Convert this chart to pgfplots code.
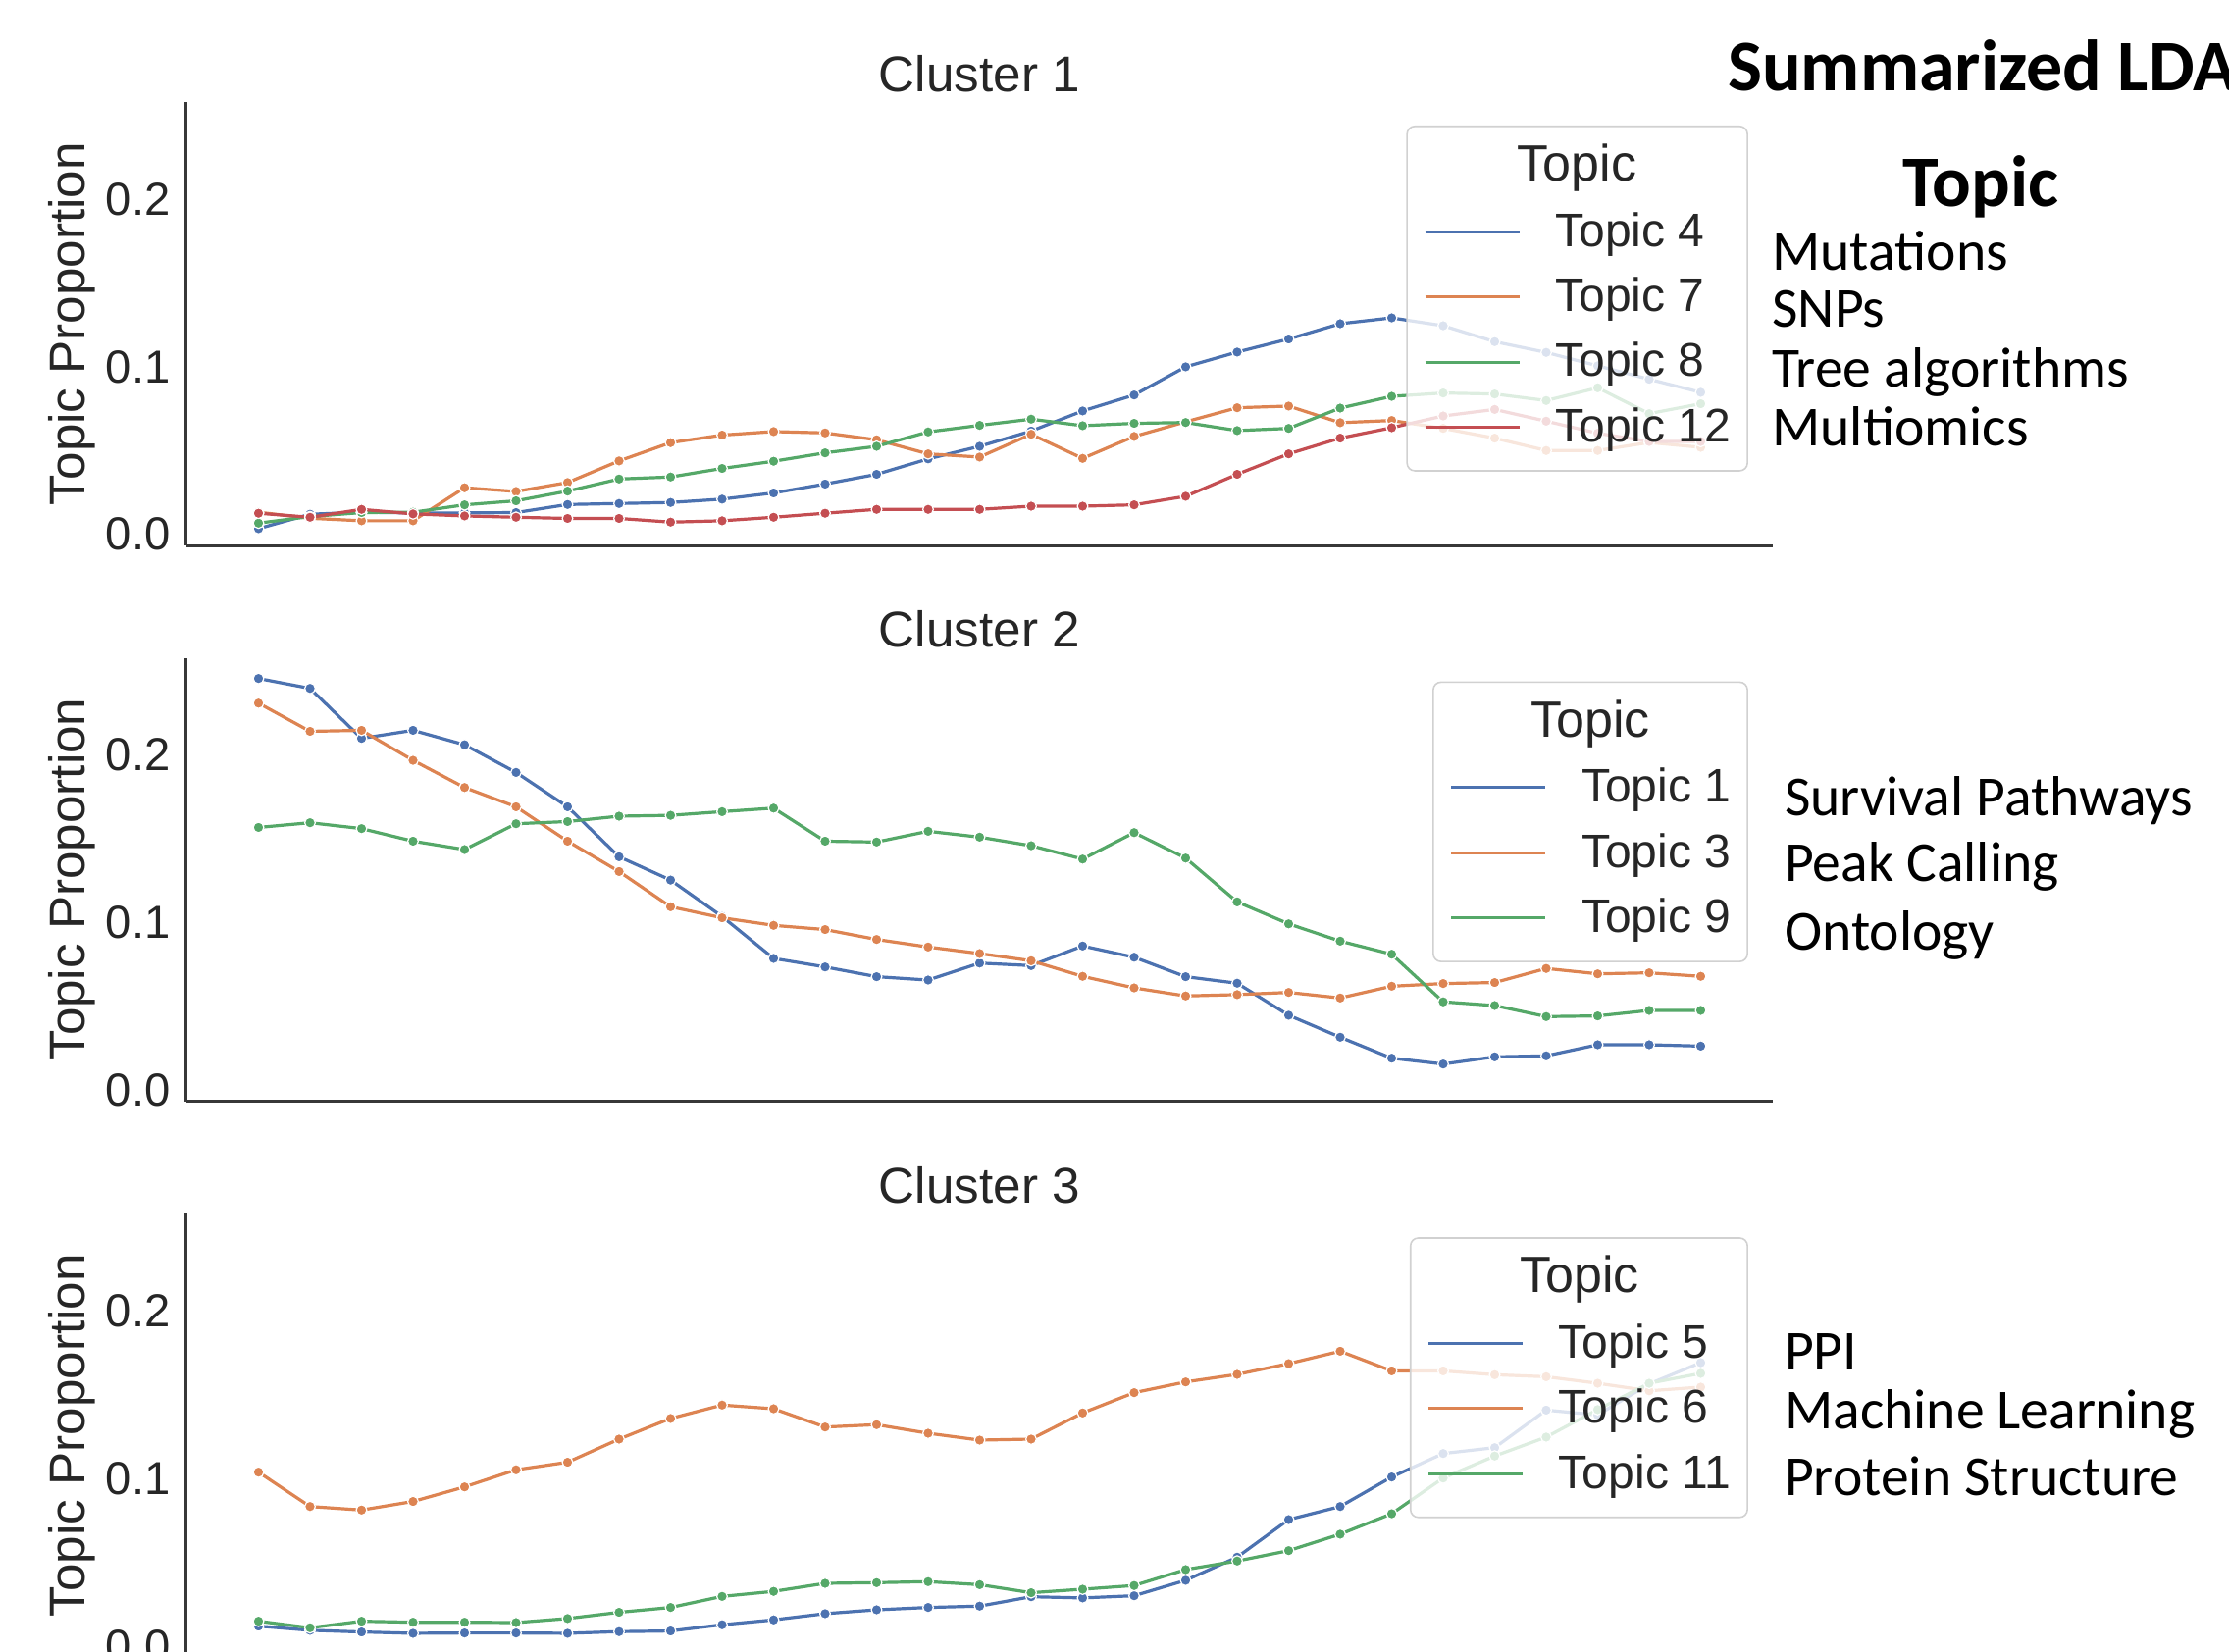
\documentclass[border=0pt]{standalone}
\usepackage{pgfplots}
\pgfplotsset{compat=1.18}
\usepackage{pgfplotstable}
\usepackage{fontspec}
\setmainfont{Liberation Sans}
\newfontfamily\calibri{Carlito}
\definecolor{sbblue}{HTML}{4C72B0}
\definecolor{sborange}{HTML}{DD8452}
\definecolor{sbgreen}{HTML}{55A868}
\definecolor{sbred}{HTML}{C44E52}

\pgfplotstableread{
i t4 t7 t8 t12
0 0.0034 0.0132 0.0067 0.0126
1 0.0120 0.0096 0.0106 0.0102
2 0.0132 0.0081 0.0130 0.0149
3 0.0128 0.0081 0.0132 0.0122
4 0.0128 0.0278 0.0176 0.0110
5 0.0130 0.0256 0.0200 0.0102
6 0.0178 0.0309 0.0258 0.0095
7 0.0184 0.0438 0.0330 0.0095
8 0.0190 0.0547 0.0342 0.0073
9 0.0210 0.0592 0.0393 0.0081
10 0.0247 0.0613 0.0436 0.0102
11 0.0300 0.0605 0.0486 0.0126
12 0.0358 0.0564 0.0525 0.0149
13 0.0450 0.0480 0.0611 0.0149
14 0.0525 0.0461 0.0650 0.0149
15 0.0616 0.0597 0.0687 0.0168
16 0.0736 0.0453 0.0648 0.0168
17 0.0831 0.0584 0.0662 0.0176
18 0.0999 0.0671 0.0667 0.0227
19 0.1087 0.0755 0.0619 0.0358
20 0.1165 0.0765 0.0632 0.0480
21 0.1256 0.0666 0.0753 0.0574
22 0.1291 0.0679 0.0823 0.0636
23 0.1244 0.0632 0.0843 0.0706
24 0.1149 0.0574 0.0837 0.0745
25 0.1085 0.0500 0.0798 0.0675
26 0.1005 0.0500 0.0874 0.0603
27 0.0925 0.0548 0.0720 0.0554
28 0.0847 0.0519 0.0779 0.0554
}\clusterA

\pgfplotstableread{
i t1 t3 t9
0 0.2455 0.2308 0.1567
1 0.2396 0.2140 0.1595
2 0.2098 0.2146 0.1560
3 0.2146 0.1967 0.1485
4 0.2060 0.1805 0.1435
5 0.1895 0.1690 0.1589
6 0.1690 0.1485 0.1602
7 0.1392 0.1304 0.1634
8 0.1253 0.1094 0.1639
9 0.1036 0.1028 0.1661
10 0.0786 0.0983 0.1682
11 0.0735 0.0958 0.1485
12 0.0677 0.0899 0.1480
13 0.0657 0.0854 0.1544
14 0.0758 0.0815 0.1509
15 0.0743 0.0772 0.1458
16 0.0860 0.0679 0.1378
17 0.0793 0.0610 0.1536
18 0.0677 0.0562 0.1384
19 0.0638 0.0570 0.1123
20 0.0447 0.0583 0.0992
21 0.0316 0.0550 0.0889
22 0.0191 0.0620 0.0811
23 0.0156 0.0636 0.0527
24 0.0199 0.0642 0.0505
25 0.0205 0.0726 0.0439
26 0.0271 0.0694 0.0443
27 0.0271 0.0700 0.0476
28 0.0263 0.0679 0.0476
}\clusterB

\pgfplotstableread{
i t5 t6 t11
0 0.0119 0.1037 0.0148
1 0.0094 0.0832 0.0109
2 0.0084 0.0811 0.0148
3 0.0076 0.0862 0.0142
4 0.0078 0.0949 0.0142
5 0.0078 0.1051 0.0140
6 0.0076 0.1096 0.0164
7 0.0086 0.1234 0.0201
8 0.0090 0.1357 0.0230
9 0.0127 0.1437 0.0296
10 0.0156 0.1415 0.0326
11 0.0193 0.1306 0.0374
12 0.0216 0.1320 0.0378
13 0.0230 0.1269 0.0384
14 0.0238 0.1228 0.0366
15 0.0294 0.1234 0.0318
16 0.0287 0.1390 0.0339
17 0.0300 0.1511 0.0361
18 0.0392 0.1575 0.0456
19 0.0530 0.1620 0.0507
20 0.0754 0.1684 0.0569
21 0.0832 0.1758 0.0667
22 0.1008 0.1641 0.0789
23 0.1148 0.1641 0.1002
24 0.1183 0.1618 0.1133
25 0.1407 0.1606 0.1246
26 0.1378 0.1567 0.1410
27 0.1563 0.1522 0.1567
28 0.1690 0.1544 0.1626
}\clusterC

\pgfplotsset{
  clusterax/.style={
    scale only axis, width=404.25pt, height=113pt,
    xmin=-1.4, xmax=29.4, ymin=-0.0066, ymax=0.2578,
    axis lines=left,
    axis line style={-, draw=black!78, line width=0.75pt},
    xtick=\empty, ytick={0,0.1,0.2}, yticklabels={0.0,0.1,0.2},
    major tick length=0pt,
    yticklabel style={font=\fontsize{11.8}{14}\selectfont, text=black!85, anchor=east, inner sep=0pt, xshift=-3.9pt},
    ylabel={Topic Proportion},
    ylabel style={at={(axis description cs:-0.0725,0.5)}, anchor=center, font=\fontsize{12.8}{14}\selectfont, text=black!85},
    legend style={at={(0.9845,0.947)}, anchor=north east, draw=black!18, line width=0.4pt,
      rounded corners=2pt, fill=white, fill opacity=0.8, text opacity=1,
      inner xsep=4.25pt, inner ysep=4.4pt, row sep=5.6pt, column sep=8.8pt,
      nodes={inner sep=0pt, text height=8pt, text depth=3pt},
      font=\fontsize{12}{14}\selectfont, text=black!85},
    legend cell align=left,
    legend image code/.code={\draw[#1, line width=0.75pt] (0pt,1.2pt) -- (24pt,1.2pt);},
  },
  sbline/.style={color=#1, line width=0.8pt, mark=*, mark size=1.35pt,
    mark options={fill=#1, draw=white, line width=0.3pt, solid}},
}

\begin{document}
\begin{tikzpicture}
\useasboundingbox (0,0) rectangle (568pt,-420.75pt);
\clip (0,0) rectangle (568pt,-420.75pt);

% Cluster 1
\begin{axis}[clusterax, at={(47.5pt,-139pt)}, anchor=south west]
\addlegendimage{empty legend}
\addlegendentry[text height=9.6pt]{\hspace{5.5pt}\makebox[0pt]{\fontsize{13}{15}\selectfont Topic}}
\addplot[sbline=sbblue] table[x=i, y=t4] {\clusterA};
\addlegendentry{Topic 4}
\addplot[sbline=sborange] table[x=i, y=t7] {\clusterA};
\addlegendentry{Topic 7}
\addplot[sbline=sbgreen] table[x=i, y=t8] {\clusterA};
\addlegendentry{Topic 8}
\addplot[sbline=sbred] table[x=i, y=t12] {\clusterA};
\addlegendentry{Topic 12}
\end{axis}

% Cluster 2
\begin{axis}[clusterax, at={(47.5pt,-280.65pt)}, anchor=south west]
\addlegendimage{empty legend}
\addlegendentry[text height=9.6pt]{\hspace{2.3pt}\makebox[0pt]{\fontsize{13}{15}\selectfont Topic}}
\addplot[sbline=sbblue] table[x=i, y=t1] {\clusterB};
\addlegendentry{Topic 1}
\addplot[sbline=sborange] table[x=i, y=t3] {\clusterB};
\addlegendentry{Topic 3}
\addplot[sbline=sbgreen] table[x=i, y=t9] {\clusterB};
\addlegendentry{Topic 9}
\end{axis}

% Cluster 3
\begin{axis}[clusterax, at={(47.5pt,-422.3pt)}, anchor=south west]
\addlegendimage{empty legend}
\addlegendentry[text height=9.6pt]{\hspace{5.3pt}\makebox[0pt]{\fontsize{13}{15}\selectfont Topic}}
\addplot[sbline=sbblue] table[x=i, y=t5] {\clusterC};
\addlegendentry{Topic 5}
\addplot[sbline=sborange] table[x=i, y=t6] {\clusterC};
\addlegendentry{Topic 6}
\addplot[sbline=sbgreen] table[x=i, y=t11] {\clusterC};
\addlegendentry{Topic 11}
\end{axis}

% titles
\node[anchor=base, font=\fontsize{12.8}{14}\selectfont, text=black!85] at (249.6pt,-23.25pt) {Cluster 1};
\node[anchor=base, font=\fontsize{12.8}{14}\selectfont, text=black!85] at (249.6pt,-164.9pt) {Cluster 2};
\node[anchor=base, font=\fontsize{12.8}{14}\selectfont, text=black!85] at (249.6pt,-306.55pt) {Cluster 3};

% right-hand annotations
\node[anchor=base west, inner sep=0pt, font=\calibri\bfseries\fontsize{18.5}{22}\selectfont] at (440.1pt,-23.2pt) {Summarized LDA};
\node[anchor=base west, inner sep=0pt, font=\calibri\bfseries\fontsize{18.5}{22}\selectfont] at (484.7pt,-52.5pt) {Topic};
\begin{scope}[every node/.style={anchor=base west, inner sep=0pt, font=\calibri\fontsize{14.4}{17}\selectfont}]
\node at (451.4pt,-68.8pt) {Mutations};
\node at (451.4pt,-83.3pt) {SNPs};
\node at (451.4pt,-98.5pt) {Tree algorithms};
\node at (451.4pt,-113.7pt) {Multiomics};
\node at (454.6pt,-207.9pt) {Survival Pathways};
\node at (454.6pt,-224.6pt) {Peak Calling};
\node at (454.6pt,-242pt) {Ontology};
\node at (454.6pt,-349.2pt) {PPI};
\node at (454.6pt,-364.1pt) {Machine Learning};
\node at (454.6pt,-381.1pt) {Protein Structure};
\end{scope}
\end{tikzpicture}
\end{document}
